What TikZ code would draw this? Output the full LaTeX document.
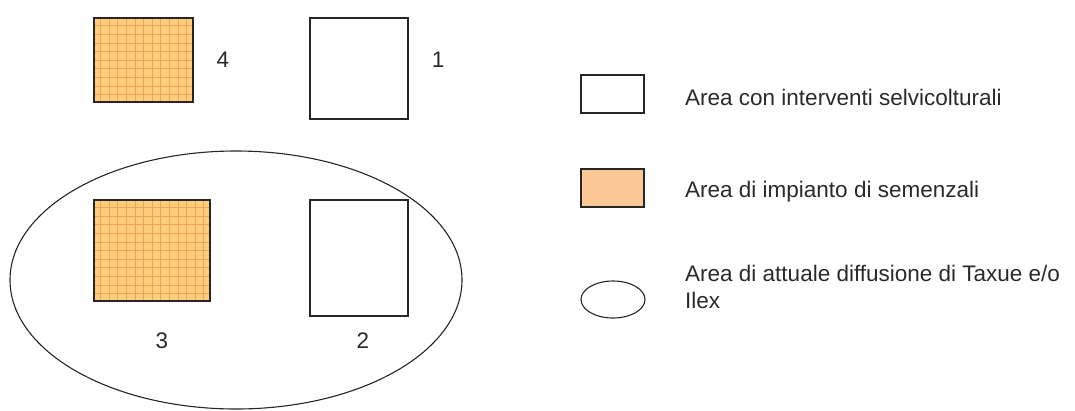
\documentclass[tikz,border=0pt]{standalone}
\usepackage{fontspec}
\setmainfont{Liberation Sans}
\usetikzlibrary{shapes.geometric}
\definecolor{orangefill}{HTML}{FFCB7C}
\definecolor{gridline}{HTML}{E9A553}
\definecolor{peach}{HTML}{FCC996}
\definecolor{txt}{HTML}{2A2A2A}
\begin{document}
\begin{tikzpicture}[x=1pt,y=-1pt,
  box/.style={draw=black!85,line width=1.1pt,fill=white,inner sep=0pt},
  gridbox/.style={box,fill=orangefill,path picture={
      \draw[gridline,line width=0.5pt,step=8.6pt]
        (path picture bounding box.south west) grid (path picture bounding box.north east);}},
  lbl/.style={font=\fontsize{22.5}{27}\selectfont,text=txt,inner sep=0pt,anchor=base},
  leg/.style={lbl,anchor=base west,align=left}]
\useasboundingbox (0,0) rectangle (1075,410);
% ellipse
\node[draw=black!85,line width=1.1pt,ellipse,minimum width=452pt,minimum height=258pt,inner sep=0pt] (ell) at (236,280) {};
% boxes
\node[gridbox,minimum width=99pt,minimum height=84pt] (b4) at (143.5,60) {};
\node[box,minimum width=98pt,minimum height=101pt] (b1) at (359,68.5) {};
\node[gridbox,minimum width=116pt,minimum height=101pt] (b3) at (152,250.5) {};
\node[box,minimum width=98pt,minimum height=116pt] (b2) at (359,258) {};
% labels
\node[lbl] (l4) at (223,67) {4};
\node[lbl] (l1) at (438,67) {1};
\node[lbl] (l3) at (162,348) {3};
\node[lbl] (l2) at (363,348) {2};
% legend
\node[box,minimum width=63pt,minimum height=38pt] (k1) at (612.5,94) {};
\node[box,fill=peach,minimum width=63pt,minimum height=38pt] (k2) at (612.5,188) {};
\node[draw=black!85,line width=1.1pt,ellipse,minimum width=64pt,minimum height=37pt,inner sep=0pt] (k3) at (613,299.5) {};
\node[leg] (t1) at (685,105) {Area con interventi selvicolturali};
\node[leg] (t2) at (685,197) {Area di impianto di semenzali};
\node[leg] (t3) at (685,308) {Area di attuale diffusione di Taxue e/o\\Ilex};
\end{tikzpicture}
\end{document}
